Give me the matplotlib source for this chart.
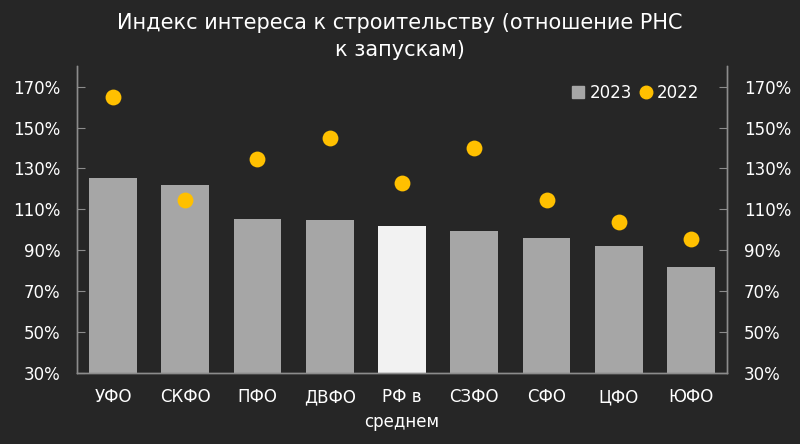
import matplotlib.pyplot as plt
from matplotlib.ticker import FuncFormatter
from matplotlib.lines import Line2D

# Data
regions = ["УФО", "СКФО", "ПФО", "ДВФО", "РФ в\nсреднем", "СЗФО", "СФО", "ЦФО", "ЮФО"]
vals_2023 = [125.5, 122, 105.5, 105, 102, 99.5, 96, 92, 82]
vals_2022 = [165, 114.5, 134.5, 145, 123, 140, 114.5, 104, 95.5]
highlight = "РФ в\nсреднем"

bg = "#262626"
grey = "#a6a6a6"
white = "#f2f2f2"
yellow = "#ffc000"
axis_col = "#8c8c8c"

plt.rcParams['font.family'] = ['DejaVu Sans']

fig = plt.figure(figsize=(8, 4.44), dpi=100, facecolor=bg)
ax = fig.add_axes([0.096, 0.160, 0.813, 0.691])
ax.set_facecolor(bg)

x = range(len(regions))
colors = [white if r == highlight else grey for r in regions]
ax.bar(x, vals_2023, width=0.66, color=colors, zorder=2)
ax.scatter(x, vals_2022, s=130, color=yellow, zorder=3, linewidths=0)

ax.set_xlim(-0.5, len(regions) - 0.5)
ax.set_ylim(30, 180)
ax.set_yticks(range(30, 171, 20))
fmt = FuncFormatter(lambda v, p: f"{v:.0f}%")
ax.yaxis.set_major_formatter(fmt)
ax.set_xticks(list(x))
ax.set_xticklabels(regions, color="white", fontsize=12, linespacing=1.5)
ax.tick_params(axis="x", length=0, pad=11)
ax.tick_params(axis="y", direction="in", length=6, color=axis_col,
               labelcolor="white", labelsize=12, pad=12)

ax2 = ax.twinx()
ax2.set_ylim(ax.get_ylim())
ax2.set_yticks(range(30, 171, 20))
ax2.yaxis.set_major_formatter(fmt)
ax2.tick_params(axis="y", direction="in", length=6, color=axis_col,
                labelcolor="white", labelsize=12, pad=12)

for a in (ax, ax2):
    a.spines["top"].set_visible(False)
    for s in ("left", "right", "bottom"):
        a.spines[s].set_color(axis_col)
        a.spines[s].set_linewidth(1)

handles = [
    Line2D([], [], marker="s", linestyle="", color=grey, markersize=8, label="2023"),
    Line2D([], [], marker="o", linestyle="", color=yellow, markersize=9, label="2022"),
]
leg = ax.legend(handles=handles, loc="center right", ncol=2, frameon=False,
                fontsize=12, handletextpad=0.15, columnspacing=0.35,
                handlelength=1.0, borderaxespad=0,
                bbox_to_anchor=(0.967, 0.912))
for t in leg.get_texts():
    t.set_color("white")

fig.text(0.5, 0.918, "Индекс интереса к строительству (отношение РНС\nк запускам)",
         ha="center", va="center", color="white", fontsize=15, linespacing=1.45)

fig.savefig("out.png", dpi=100, facecolor=bg)
plt.close("all")
